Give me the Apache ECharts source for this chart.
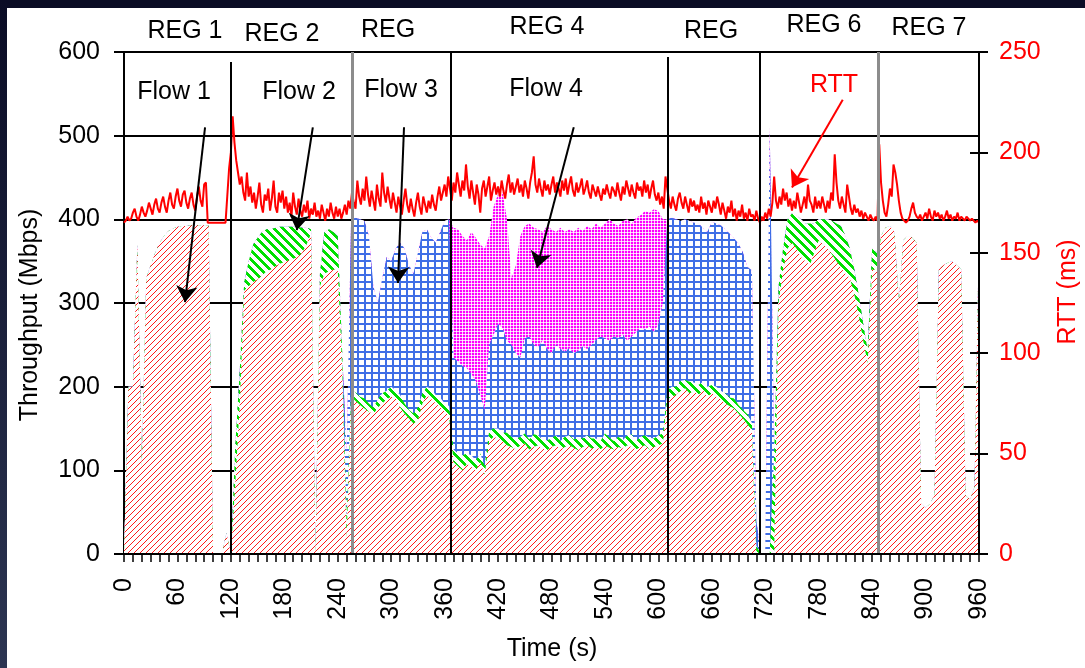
<!DOCTYPE html>
<html>
<head>
<meta charset="utf-8">
<script src="https://cdn.jsdelivr.net/npm/echarts@6/dist/echarts.min.js"></script>
<style>
  html, body { margin: 0; padding: 0; width: 1085px; height: 668px; overflow: hidden; background: #0a0c25; }
  #edge { position: absolute; left: 0; top: 0; width: 7px; height: 668px; background: linear-gradient(#0a0c25, #2c3552); }
  #chart { position: absolute; left: 7px; top: 8px; width: 1078px; height: 660px; background: #ffffff; }
</style>
</head>
<body>
<div id="edge"></div>
<div id="chart"></div>
<script>
// Throughput samples (Mbps), one every FLOW_STEP seconds, 0..960 s
const FLOW_STEP = 5;
const flow1 = [
  0, 200, 200, 370, 105, 330, 345, 360, 372, 380, 386, 389,
  391, 392, 392, 393, 393, 393, 393, 393, 0, 0, 0, 25,
  0, 85, 180, 315, 320, 325, 328, 333, 338, 340, 344, 347,
  349, 351, 353, 355, 360, 370, 383, 0, 320, 335, 338, 340,
  340, 220, 20, 188, 183, 178, 174, 170, 167, 175, 180, 185,
  188, 186, 175, 168, 162, 156, 160, 180, 190, 185, 180, 175,
  170, 165, 110, 105, 100, 108, 104, 100, 110, 95, 135, 140,
  138, 135, 130, 128, 125, 130, 132, 125, 128, 130, 126, 124,
  128, 130, 125, 128, 130, 127, 124, 128, 130, 126, 128, 125,
  130, 127, 125, 128, 126, 130, 128, 125, 128, 130, 125, 128,
  130, 132, 185, 188, 190, 195, 198, 192, 195, 190, 196, 188,
  192, 188, 185, 180, 177, 174, 168, 162, 155, 147, 0, 0,
  0, 0, 0, 300, 340, 365, 372, 365, 355, 350, 345, 360,
  375, 370, 365, 358, 350, 342, 335, 330, 310, 285, 255, 228,
  340, 340, 380, 390, 392, 385, 300, 375, 380, 378, 372, 60,
  55, 60, 70, 340, 345, 348, 350, 345, 340, 70, 65, 80,
  390
];
const flow2 = [
  0, 0, 0, 0, 0, 0, 0, 0, 0, 0, 0, 0,
  0, 0, 0, 0, 0, 0, 0, 0, 0, 0, 0, 0,
  0, 45, 40, 10, 30, 45, 50, 52, 50, 48, 46, 44,
  42, 40, 38, 36, 30, 20, 5, 0, 15, 50, 50, 45,
  40, 20, 20, 8, 10, 10, 12, 10, 8, 10, 12, 10,
  12, 10, 15, 12, 10, 12, 15, 12, 10, 12, 10, 12,
  10, 12, 15, 15, 18, 12, 14, 12, 10, 10, 12, 10,
  12, 10, 15, 12, 12, 10, 12, 12, 15, 12, 10, 12,
  10, 12, 10, 12, 12, 10, 15, 10, 12, 12, 10, 10,
  14, 12, 10, 12, 10, 12, 15, 10, 12, 12, 14, 10,
  12, 12, 10, 12, 10, 12, 10, 14, 10, 12, 10, 12,
  10, 12, 10, 12, 10, 12, 10, 10, 12, 10, 10, 0,
  0, 0, 120, 20, 25, 35, 35, 40, 45, 45, 50, 35,
  25, 30, 35, 40, 45, 50, 45, 35, 30, 25, 20, 15,
  25, 20, 0, 0, 0, 0, 0, 0, 0, 0, 0, 0,
  0, 0, 0, 0, 0, 0, 0, 0, 0, 0, 0, 0,
  0
];
const flow3 = [
  0, 0, 0, 0, 0, 0, 0, 0, 0, 0, 0, 0,
  0, 0, 0, 0, 0, 0, 0, 0, 0, 0, 0, 0,
  0, 0, 0, 0, 0, 0, 0, 0, 0, 0, 0, 0,
  0, 0, 0, 0, 0, 0, 0, 0, 0, 0, 0, 0,
  0, 0, 80, 204, 209, 212, 212, 200, 145, 115, 138, 160,
  150, 169, 182, 185, 173, 167, 185, 193, 188, 181, 182, 198,
  218, 223, 110, 110, 107, 102, 97, 95, 70, 67, 103, 112,
  125, 125, 110, 110, 103, 95, 114, 123, 107, 105, 119, 109,
  102, 108, 110, 102, 104, 103, 104, 110, 103, 112, 118, 125,
  114, 116, 125, 118, 126, 113, 117, 130, 130, 126, 133, 127,
  133, 156, 205, 202, 200, 191, 192, 192, 191, 193, 184, 185,
  195, 195, 198, 196, 196, 191, 193, 188, 176, 182, 30, 0,
  0, 510, 0, 0, 0, 0, 0, 0, 0, 0, 0, 0,
  0, 0, 0, 0, 0, 0, 0, 0, 0, 0, 0, 0,
  0, 0, 0, 0, 0, 0, 0, 0, 0, 0, 0, 0,
  0, 0, 0, 0, 0, 0, 0, 0, 0, 0, 0, 0,
  0
];
const flow4 = [
  0, 0, 0, 0, 0, 0, 0, 0, 0, 0, 0, 0,
  0, 0, 0, 0, 0, 0, 0, 0, 0, 0, 0, 0,
  0, 0, 0, 0, 0, 0, 0, 0, 0, 0, 0, 0,
  0, 0, 0, 0, 0, 0, 0, 0, 0, 0, 0, 0,
  0, 0, 0, 0, 0, 0, 0, 0, 0, 0, 0, 0,
  0, 0, 0, 0, 0, 0, 0, 0, 0, 0, 0, 0,
  0, 0, 155, 158, 155, 153, 170, 171, 180, 193, 130, 153,
  155, 162, 145, 80, 105, 145, 134, 135, 140, 141, 130, 147,
  148, 135, 145, 143, 142, 145, 147, 138, 147, 138, 139, 130,
  137, 145, 135, 134, 136, 145, 135, 137, 135, 142, 136, 147,
  135, 100, 0, 0, 0, 0, 0, 0, 0, 0, 0, 0,
  0, 0, 0, 0, 0, 0, 0, 0, 0, 0, 0, 0,
  0, 0, 0, 0, 0, 0, 0, 0, 0, 0, 0, 0,
  0, 0, 0, 0, 0, 0, 0, 0, 0, 0, 0, 0,
  0, 0, 0, 0, 0, 0, 0, 0, 0, 0, 0, 0,
  0, 0, 0, 0, 0, 0, 0, 0, 0, 0, 0, 0,
  0
];

// Round-trip time (ms), one sample every RTT_STEP seconds, 0..960 s (one row per minute)
const RTT_STEP = 2;
const rtt = [
  165, 166, 168, 166, 167, 170, 172, 168, 166, 169, 173, 170, 168, 171, 175, 172, 169, 174, 177, 172, 170, 175, 178, 173, 170, 176, 180, 174, 172, 178,
  182, 176, 173, 179, 181, 175, 172, 177, 180, 174, 171, 178, 183, 176, 173, 184, 185, 165, 165, 165, 165, 165, 165, 165, 165, 165, 165, 165, 165, 192,
  200, 218, 205, 196, 190, 184, 188, 180, 176, 190, 178, 183, 175, 180, 172, 178, 185, 174, 170, 179, 176, 182, 171, 177, 186, 173, 170, 180, 175, 181,
  172, 178, 170, 175, 168, 180, 173, 169, 177, 171, 168, 174, 170, 176, 167, 172, 169, 175, 168, 171, 167, 174, 170, 166, 172, 168, 175, 170, 167, 173,
  168, 172, 167, 170, 174, 169, 176, 172, 180, 175, 172, 186, 178, 174, 182, 176, 188, 179, 173, 181, 176, 171, 184, 177, 173, 190, 180, 175, 183, 177,
  172, 180, 175, 170, 178, 173, 169, 176, 182, 174, 170, 177, 172, 168, 175, 180, 173, 169, 178, 174, 170, 176, 172, 179, 174, 171, 178, 183, 176, 180,
  184, 178, 188, 182, 176, 185, 180, 190, 184, 178, 186, 181, 194, 183, 177, 186, 180, 174, 184, 179, 170, 182, 186, 178, 183, 188, 176, 181, 185, 179,
  183, 178, 186, 181, 177, 184, 189, 180, 185, 179, 183, 187, 180, 184, 178, 186, 182, 177, 185, 190, 198, 184, 180, 187, 182, 178, 186, 181, 184, 179,
  184, 188, 180, 185, 182, 178, 186, 181, 187, 179, 184, 188, 181, 178, 185, 180, 183, 187, 179, 182, 186, 180, 177, 184, 181, 178, 183, 179, 176, 182,
  179, 184, 180, 177, 183, 181, 178, 185, 180, 176, 183, 179, 186, 182, 178, 184, 180, 177, 185, 181, 183, 178, 186, 180, 184, 177, 182, 186, 179, 176,
  180, 174, 178, 172, 188, 182, 176, 172, 178, 174, 171, 177, 180, 175, 172, 178, 174, 170, 177, 173, 176, 171, 174, 170, 178, 172, 175, 169, 176, 173,
  170, 176, 172, 178, 174, 169, 175, 171, 167, 173, 170, 176, 168, 172, 166, 171, 168, 174, 167, 170, 166, 172, 168, 169, 166, 171, 167, 165, 168, 166,
  170, 167, 172, 168, 175, 188, 176, 172, 178, 174, 182, 176, 180, 173, 177, 171, 176, 172, 180, 175, 170, 174, 178, 172, 184, 176, 174, 170, 178, 172,
  176, 172, 178, 174, 170, 176, 172, 180, 176, 199, 185, 176, 172, 178, 174, 170, 184, 178, 172, 169, 174, 170, 172, 168, 171, 167, 170, 168, 166, 169,
  167, 166, 168, 166, 204, 185, 176, 170, 168, 174, 182, 178, 194, 190, 184, 176, 170, 167, 166, 165, 166, 168, 172, 175, 170, 168, 167, 169, 166, 168,
  170, 167, 172, 168, 166, 171, 168, 170, 167, 169, 166, 168, 171, 167, 169, 166, 168, 167, 170, 166, 168, 167, 166, 168, 167, 166, 167, 166, 165, 166,
  165
];

// Region boundaries (s) and how far up each divider reaches (Mbps)
const regionBounds = [120, 256, 367, 610, 714, 847];
const regionTops = [588, 600, 600, 594, 600, 600];
const regionGray = [false, true, false, false, false, true];

const FONT = '"Liberation Sans", Arial, sans-serif';

// Fill patterns for the four flows
function makePattern(size, draw) {
  const c = document.createElement('canvas');
  c.width = size; c.height = size;
  const g = c.getContext('2d');
  g.fillStyle = '#ffffff';
  g.fillRect(0, 0, size, size);
  draw(g, size);
  return { image: c, repeat: 'repeat' };
}
const redHatch = makePattern(6, (g, s) => {
  g.fillStyle = '#ff1a1a';
  for (let i = 0; i < s; i++) g.fillRect(i, s - 1 - i, 1, 1);
});
const greenHatch = makePattern(9, (g, s) => {
  g.fillStyle = '#00e000';
  for (let i = 0; i < s; i++) {
    for (let w = 0; w < 4; w++) g.fillRect((i + w) % s, i, 1, 1);
  }
});
const blueGrid = makePattern(7, (g, s) => {
  g.fillStyle = '#3f6ee6';
  g.fillRect(0, 0, s, 2);
  g.fillRect(0, 0, 2, s);
});
const magentaDots = makePattern(3, (g) => {
  g.fillStyle = '#ff00ff';
  g.fillRect(0, 0, 2, 2);
  g.fillStyle = '#ffc8ff';
  g.fillRect(2, 0, 1, 2);
  g.fillRect(0, 2, 2, 1);
});

// Running totals: each flow's band sits on top of the flows below it
const layers = [flow1, flow2, flow3, flow4];
const cumulative = [];
layers.forEach((arr, k) => {
  cumulative.push(arr.map((v, i) => v + (k > 0 ? cumulative[k - 1][i] : 0)));
});

const toPairs = (arr, step) => arr.map((v, i) => [i * step, v]);

// Bands are painted top-down so each lower flow covers the part of the band above it
function bandSeries(name, totals, pattern) {
  return {
    name: name,
    type: 'line',
    yAxisIndex: 0,
    data: toPairs(totals, FLOW_STEP),
    symbol: 'none',
    showSymbol: false,
    lineStyle: { width: 0, opacity: 0 },
    areaStyle: { color: pattern, opacity: 1, origin: 'start' },
    silent: true,
    z: 2
  };
}

const dividerLines = regionBounds.map((t, i) => [
  { coord: [t, regionTops[i]], lineStyle: { color: regionGray[i] ? '#8c8c8c' : '#000000', width: regionGray[i] ? 3 : 2, type: 'solid' } },
  { coord: [t, 0] }
]);

const arrowStyle = { color: '#000000', width: 2, type: 'solid' };
const arrows = [
  [{ coord: [91, 510], lineStyle: arrowStyle }, { coord: [68.5, 301] }],
  [{ coord: [212, 510], lineStyle: arrowStyle }, { coord: [194, 387] }],
  [{ coord: [314.4, 510], lineStyle: arrowStyle }, { coord: [307.6, 324] }],
  [{ coord: [505, 510], lineStyle: arrowStyle }, { coord: [463.7, 342] }],
  [{ coord: [807, 543], lineStyle: { color: '#ff0000', width: 2, type: 'solid' } }, { coord: [750, 438] }]
];

function textEl(text, x, y, opts) {
  opts = opts || {};
  return {
    type: 'text',
    x: x, y: y,
    rotation: opts.rotation || 0,
    silent: true,
    z: 20,
    style: {
      text: text,
      fontSize: opts.size || 25,
      fontFamily: FONT,
      fill: opts.color || '#000000',
      textAlign: 'center',
      textVerticalAlign: 'middle'
    }
  };
}

const chart = echarts.init(document.getElementById('chart'), null, { renderer: 'canvas' });

chart.setOption({
  animation: false,
  backgroundColor: '#ffffff',
  grid: { left: 117, top: 44, right: 106, bottom: 114, containLabel: false },
  xAxis: {
    type: 'value', min: 0, max: 960, interval: 60, z: 6,
    axisLine: { lineStyle: { color: '#000000', width: 2 } },
    axisTick: { length: 8, lineStyle: { color: '#000000', width: 1.5 } },
    minorTick: { show: true, splitNumber: 6, length: 8, lineStyle: { color: '#000000', width: 1.5 } },
    axisLabel: { rotate: 90, margin: 24, fontSize: 25, fontFamily: FONT, color: '#000000' },
    splitLine: { show: false }
  },
  yAxis: [
    {
      type: 'value', min: 0, max: 600, interval: 100,
      axisLine: { show: true, lineStyle: { color: '#000000', width: 2 } },
      axisTick: { show: true, length: 10, lineStyle: { color: '#000000', width: 2 } },
      axisLabel: { margin: 24, fontSize: 25, fontFamily: FONT, color: '#000000' },
      splitLine: { show: true, lineStyle: { color: '#000000', width: 2 } }
    },
    {
      type: 'value', min: 0, max: 250, interval: 50, position: 'right', z: 6,
      axisLine: { show: true, lineStyle: { color: '#000000', width: 2 } },
      axisTick: { show: true, length: 9, lineStyle: { color: '#000000', width: 2 } },
      axisLabel: { margin: 20, fontSize: 25, fontFamily: FONT, color: '#ff0000' },
      splitLine: { show: false }
    },
    {
      type: 'value', min: 0, max: 250, interval: 50, position: 'right', z: 6,
      axisLine: { show: false },
      axisTick: { show: true, inside: true, length: 9, lineStyle: { color: '#000000', width: 2 } },
      axisLabel: { show: false },
      splitLine: { show: false }
    }
  ],
  series: [
    bandSeries('Flow 4', cumulative[3], magentaDots),
    bandSeries('Flow 3', cumulative[2], blueGrid),
    bandSeries('Flow 2', cumulative[1], greenHatch),
    bandSeries('Flow 1', cumulative[0], redHatch),
    {
      name: 'RTT', type: 'line', yAxisIndex: 1,
      data: toPairs(rtt, RTT_STEP),
      symbol: 'none', showSymbol: false,
      lineStyle: { color: '#ff0000', width: 2 },
      silent: true, z: 3
    },
    {
      name: 'regions', type: 'line', yAxisIndex: 0, data: [],
      silent: true, z: 5,
      markLine: {
        silent: true,
        symbol: ['none', 'none'],
        label: { show: false },
        emphasis: { disabled: true },
        data: dividerLines
      }
    },
    {
      name: 'pointers', type: 'line', yAxisIndex: 0, data: [],
      silent: true, z: 7,
      markLine: {
        silent: true,
        symbol: ['none', 'arrow'],
        symbolSize: 16,
        label: { show: false },
        emphasis: { disabled: true },
        data: arrows
      }
    }
  ],
  graphic: [
    textEl('REG 1', 178, 23),
    textEl('REG 2', 275, 26),
    textEl('REG', 381, 22),
    textEl('REG 4', 540, 19),
    textEl('REG', 704, 23),
    textEl('REG 6', 817, 17),
    textEl('REG 7', 922, 20),
    textEl('Flow 1', 167, 84),
    textEl('Flow 2', 292, 84),
    textEl('Flow 3', 394, 82),
    textEl('Flow 4', 539, 81),
    textEl('RTT', 827, 77, { color: '#ff0000' }),
    textEl('Throughput (Mbps)', 23, 307, { rotation: Math.PI / 2 }),
    textEl('RTT (ms)', 1061, 284, { rotation: Math.PI / 2, color: '#ff0000' }),
    textEl('Time (s)', 545, 641)
  ]
});
</script>
</body>
</html>
